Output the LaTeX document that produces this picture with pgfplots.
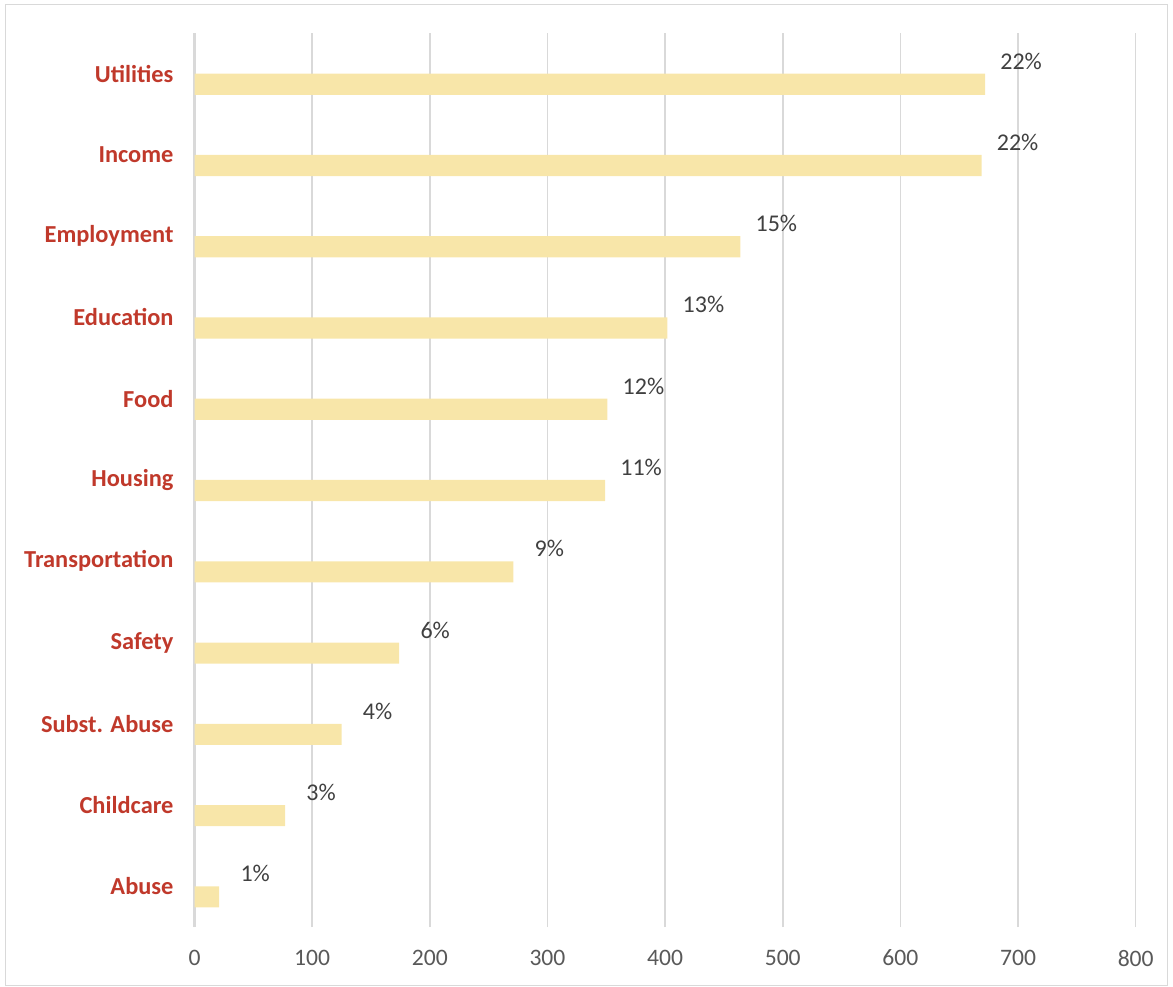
\documentclass[border=0pt]{standalone}
\usepackage{pgfplots}
\pgfplotsset{compat=1.18}
\usepackage{fontspec}
\setmainfont{Carlito}
\definecolor{barc}{HTML}{F8E6A9}
\definecolor{labred}{HTML}{C0392B}
\definecolor{gridc}{HTML}{D9D9D9}
\definecolor{tickc}{HTML}{595959}
\definecolor{pctc}{HTML}{404040}
\begin{document}
\begin{tikzpicture}
\path[use as bounding box] (0bp,0bp) rectangle (586.5bp,493.5bp);
\draw[gridc, line width=0.75bp] (2.75bp,0.75bp) rectangle (583.75bp,491.25bp);
\begin{axis}[
  at={(97.25bp,30bp)}, anchor=south west,
  scale only axis, width=470.6bp, height=447bp,
  xmin=0, xmax=800, ymin=-0.5, ymax=10.5,
  xtick={0,100,...,800},
  ytick={0,...,10},
  yticklabels={Abuse,Childcare,Subst. Abuse,Safety,Transportation,Housing,Food,Education,Employment,Income,Utilities},
  yticklabel style={font=\bfseries\fontsize{12.2bp}{14bp}\selectfont, text=labred, xshift=-7bp},
  xticklabel style={font=\fontsize{11.8bp}{14bp}\selectfont, text=tickc, yshift=-8bp},
  /pgf/number format/assume math mode=true,
  major tick length=0pt,
  xmajorgrids, major grid style={gridc, line width=0.75bp},
  axis x line*=bottom, x axis line style={draw=none},
  axis y line*=left, y axis line style={gridc, line width=1.6bp, -},
  clip=false,
]
\addplot[xbar, bar width=0.26, bar shift=0pt, fill=barc, draw=none] coordinates {
  (21,-0.13) (77,0.87) (125,1.87) (174,2.87) (271,3.87) (349,4.87)
  (351,5.87) (402,6.87) (464,7.87) (669,8.87) (672,9.87)
};
\addplot[draw=none, mark=none, nodes near coords, point meta=explicit symbolic,
  nodes near coords style={anchor=base, xshift=18bp, font=\fontsize{12bp}{14bp}\selectfont, text=pctc}]
  coordinates {
  (21,0.055) [1\%]
  (77,1.055) [3\%]
  (125,2.055) [4\%]
  (174,3.055) [6\%]
  (271,4.055) [9\%]
  (349,5.055) [11\%]
  (351,6.055) [12\%]
  (402,7.055) [13\%]
  (464,8.055) [15\%]
  (669,9.055) [22\%]
  (672,10.055) [22\%]
};
\end{axis}
\end{tikzpicture}
\end{document}
